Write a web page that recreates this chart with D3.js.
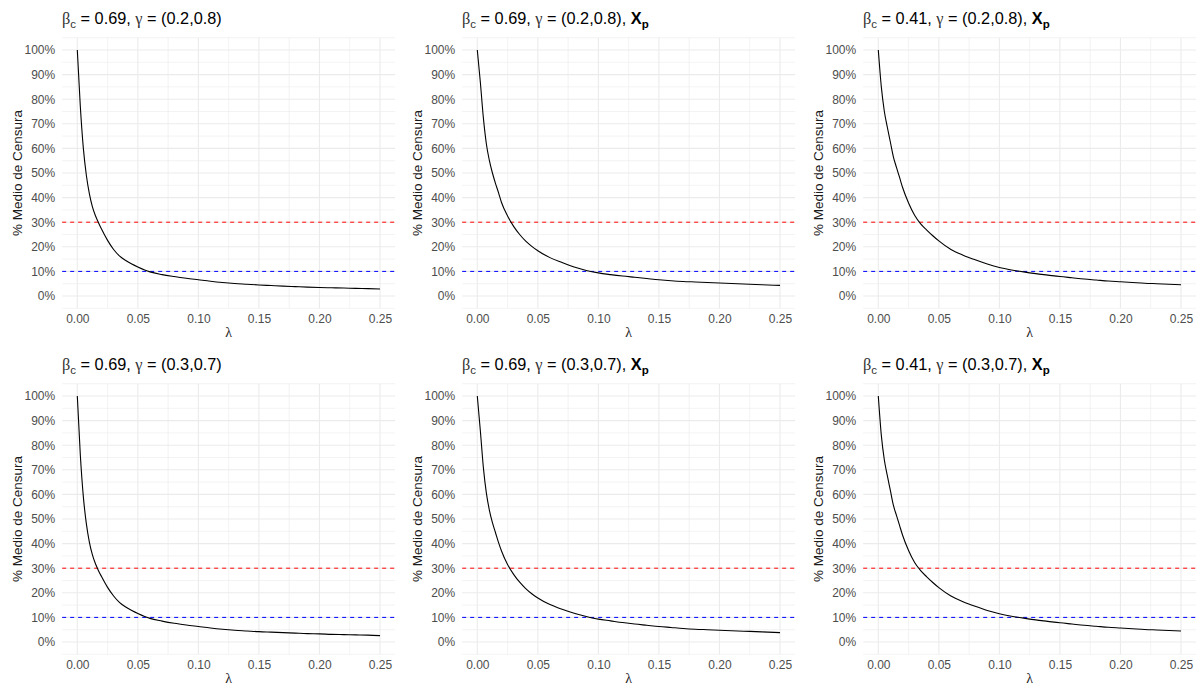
<!DOCTYPE html>
<html>
<head>
<meta charset="utf-8">
<script src="https://cdn.jsdelivr.net/npm/d3@7"></script>
<style>
  html, body { margin: 0; padding: 0; background: #fff; }
  svg { display: block; }
  text { font-family: "Liberation Sans", Arial, sans-serif; }
</style>
</head>
<body>
<svg id="chart" width="1198" height="686"></svg>
<script>
// λ grid shared by every panel
const lambda = [0, 0.0025, 0.005, 0.0075, 0.01, 0.0125, 0.015, 0.0175, 0.02, 0.025,
  0.03, 0.035, 0.04, 0.045, 0.05, 0.06, 0.07, 0.08, 0.09, 0.10,
  0.11, 0.12, 0.13, 0.14, 0.15, 0.16, 0.17, 0.18, 0.19, 0.20,
  0.21, 0.22, 0.23, 0.24, 0.25];

// mean censoring (%) for each scenario
const censA = [100, 77, 60, 49, 41.5, 36.2, 32.6, 29.8, 27.2, 22.6,
  18.9, 16.2, 14.4, 13.0, 11.8, 9.8, 8.7, 7.9, 7.2, 6.6,
  6.0, 5.5, 5.1, 4.8, 4.5, 4.25, 4.0, 3.8, 3.6, 3.45,
  3.35, 3.25, 3.1, 3.0, 2.85];
const censB = [100, 87, 72.5, 61.8, 55, 50, 45.8, 42, 38, 32.5,
  28.3, 25, 22.3, 20.2, 18.4, 15.6, 13.6, 11.8, 10.4, 9.4,
  8.7, 8.1, 7.6, 7.1, 6.6, 6.2, 5.9, 5.7, 5.5, 5.3,
  5.1, 4.9, 4.7, 4.5, 4.3];
const censC = [100, 85, 75, 68.5, 62.5, 56.5, 52.3, 48.3, 44.2, 37.8,
  32.8, 29.3, 26.8, 24.5, 22.4, 18.9, 16.6, 14.7, 13.0, 11.6,
  10.6, 9.8, 9.1, 8.5, 7.9, 7.4, 6.9, 6.5, 6.1, 5.8,
  5.5, 5.2, 5.0, 4.8, 4.6];
const censD = [100, 76, 59, 48, 40.5, 35.4, 31.8, 29.0, 26.6, 22.2,
  18.7, 16.0, 14.2, 12.8, 11.6, 9.6, 8.5, 7.6, 6.9, 6.3,
  5.7, 5.2, 4.8, 4.5, 4.2, 4.0, 3.8, 3.6, 3.4, 3.3,
  3.1, 3.0, 2.9, 2.8, 2.6];
const censE = [100, 86, 71, 60.5, 53.5, 48.5, 44.5, 40.5, 37, 31.5,
  27.5, 24.3, 21.7, 19.6, 17.9, 15.2, 13.3, 11.7, 10.4, 9.3,
  8.6, 7.9, 7.3, 6.8, 6.3, 5.9, 5.5, 5.2, 5.0, 4.8,
  4.6, 4.4, 4.2, 4.0, 3.8];
const censF = [100, 84, 74, 67.5, 61.5, 55.5, 51.5, 47.5, 43.5, 37.2,
  32.3, 29.0, 26.5, 24.2, 22.1, 18.7, 16.4, 14.5, 12.8, 11.5,
  10.5, 9.7, 9.0, 8.4, 7.8, 7.3, 6.8, 6.4, 6.0, 5.7,
  5.4, 5.1, 4.9, 4.7, 4.5];

// panel headings: beta_c value, gamma interval, whether X_p is included
const betaC = ["0.69", "0.69", "0.41", "0.69", "0.69", "0.41"];
const gammaInt = ["(0.2,0.8)", "(0.2,0.8)", "(0.2,0.8)", "(0.3,0.7)", "(0.3,0.7)", "(0.3,0.7)"];
const withXp = [false, true, true, false, true, true];
const series = [censA, censB, censC, censD, censE, censF];

// reference lines (%)
const refLines = [30, 10];
const refColors = ["#ff0000", "#0000ff"];

const xTicks = [0, 0.05, 0.10, 0.15, 0.20, 0.25];
const xMinor = [0.025, 0.075, 0.125, 0.175, 0.225];
const yTicks = [0, 10, 20, 30, 40, 50, 60, 70, 80, 90, 100];
const yMinor = [-5, 5, 15, 25, 35, 45, 55, 65, 75, 85, 95, 105];

const yLabel = "% Medio de Censura";
const xLabel = "λ";

const svg = d3.select("#chart");
const colOffsets = [0, 400, 801];
const rowOffsets = [0, 346];

series.forEach((vals, i) => {
  const ox = colOffsets[i % 3];
  const oy = rowOffsets[Math.floor(i / 3)];
  const g = svg.append("g").attr("transform", `translate(${ox},${oy})`);

  const x = d3.scaleLinear().domain([0, 0.25]).range([77.3, 380]);
  const y = d3.scaleLinear().domain([0, 100]).range([296, 50]);
  const x0 = x(-0.0125), x1 = x(0.2625);
  const y0 = y(-5), y1 = y(105);

  // grid
  const grid = g.append("g");
  grid.selectAll(".ymin").data(yMinor).join("line")
    .attr("x1", x0).attr("x2", x1).attr("y1", d => y(d)).attr("y2", d => y(d))
    .attr("stroke", "#ebebeb").attr("stroke-width", 0.6);
  grid.selectAll(".xmin").data(xMinor).join("line")
    .attr("y1", y0).attr("y2", y1).attr("x1", d => x(d)).attr("x2", d => x(d))
    .attr("stroke", "#ebebeb").attr("stroke-width", 0.6);
  grid.selectAll(".ymaj").data(yTicks).join("line")
    .attr("x1", x0).attr("x2", x1).attr("y1", d => y(d)).attr("y2", d => y(d))
    .attr("stroke", "#ebebeb").attr("stroke-width", 1.1);
  grid.selectAll(".xmaj").data(xTicks).join("line")
    .attr("y1", y0).attr("y2", y1).attr("x1", d => x(d)).attr("x2", d => x(d))
    .attr("stroke", "#ebebeb").attr("stroke-width", 1.1);

  // axes (labels only, as in a minimal theme)
  const yAxis = g.append("g").attr("transform", `translate(${x0},0)`)
    .call(d3.axisLeft(y).tickValues(yTicks).tickFormat(d => d + "%").tickSize(0).tickPadding(7));
  yAxis.select(".domain").remove();
  yAxis.selectAll("text").attr("fill", "#4d4d4d").style("font-size", "12px")
    .style("font-family", "'Liberation Sans', Arial, sans-serif");

  const xAxis = g.append("g").attr("transform", `translate(0,${y0})`)
    .call(d3.axisBottom(x).tickValues(xTicks).tickFormat(d3.format(".2f")).tickSize(0).tickPadding(6));
  xAxis.select(".domain").remove();
  xAxis.selectAll("text").attr("fill", "#4d4d4d").style("font-size", "12px")
    .style("font-family", "'Liberation Sans', Arial, sans-serif");

  // axis titles
  g.append("text").attr("x", (x0 + x1) / 2).attr("y", 337)
    .attr("text-anchor", "middle").attr("fill", "#1a1a1a")
    .style("font-family", "'Liberation Serif', serif").style("font-size", "14px").text(xLabel);
  g.append("text").attr("transform", `translate(21.5,${(y0 + y1) / 2}) rotate(-90)`)
    .attr("text-anchor", "middle").attr("fill", "#1a1a1a").style("font-size", "13.5px").text(yLabel);

  // reference lines
  g.selectAll(".ref").data(refLines).join("line")
    .attr("x1", x0).attr("x2", x1).attr("y1", d => y(d)).attr("y2", d => y(d))
    .attr("stroke", (d, k) => refColors[k]).attr("stroke-width", 1)
    .attr("stroke-dasharray", "4,4");

  // censoring curve
  const line = d3.line().x((d, k) => x(lambda[k])).y(d => y(d)).curve(d3.curveMonotoneX);
  g.append("path").datum(vals).attr("d", line)
    .attr("fill", "none").attr("stroke", "#000").attr("stroke-width", 1.1);

  // panel heading
  const t = g.append("text").attr("x", 62).attr("y", 24)
    .attr("fill", "#000").style("font-size", "16.3px");
  t.append("tspan").style("font-family", "'Liberation Serif', serif").attr("fill", "#333").text("β");
  t.append("tspan").attr("dy", 4).style("font-size", "11.5px").attr("fill", "#333").text("c");
  t.append("tspan").attr("dy", -4).text(" = " + betaC[i] + ", ");
  t.append("tspan").style("font-family", "'Liberation Serif', serif").attr("fill", "#333").text("γ");
  t.append("tspan").text(" = " + gammaInt[i]);
  if (withXp[i]) {
    t.append("tspan").text(", ");
    t.append("tspan").style("font-weight", "bold").text("X");
    t.append("tspan").attr("dy", 4).style("font-weight", "bold").style("font-size", "11.5px").text("p");
  }
});
</script>
</body>
</html>
